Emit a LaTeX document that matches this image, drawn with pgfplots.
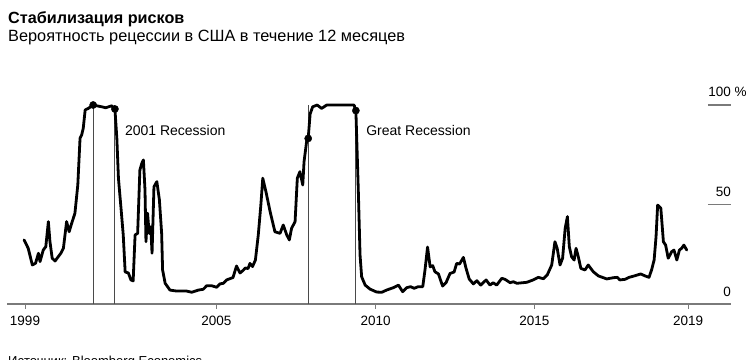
\documentclass[border=0pt]{standalone}
\usepackage{fontspec}
\setmainfont{Liberation Sans}
\usepackage{pgfplots}
\pgfplotsset{compat=1.18}
\definecolor{axgray}{HTML}{7A7A7A}
\definecolor{vline}{HTML}{4A4A4A}
\begin{document}
\begin{tikzpicture}[x=1pt,y=1pt]
\path[use as bounding box] (0,0) rectangle (755,359);
\node[anchor=base west, inner sep=0, font=\fontsize{16.2}{19}\selectfont\bfseries] at (8,335.7) {Стабилизация рисков};
\node[anchor=base west, inner sep=0, font=\fontsize{16.3}{19}\selectfont] at (8,317.3) {Вероятность рецессии в США в течение 12 месяцев};
\node[anchor=base west, inner sep=0, font=\fontsize{13}{15}\selectfont] at (8,-6.5) {Источник: Bloomberg Economics};
\begin{axis}[
  at={(7pt,55pt)}, anchor=south west,
  scale only axis, width=724pt, height=199pt,
  xmin=1998.4375, xmax=2021.0625, ymin=0, ymax=100,
  axis x line*=bottom, axis y line=none,
  x axis line style={draw=axgray, line width=1.3pt},
  xtick={1999,2004.98,2009.96,2014.92,2019.72},
  xticklabels={1999,2005,2010,2015,2019},
  tick align=outside, major tick length=5pt,
  xtick style={draw=axgray, line width=0.9pt},
  xticklabel style={font=\fontsize{13.5}{16}\selectfont, yshift=-4pt},
  /pgf/number format/assume math mode=true,
  clip=false,
]
\addplot[vline, line width=0.9pt] coordinates {(2001.13,0)(2001.13,100)};
\addplot[vline, line width=0.9pt] coordinates {(2001.81,0)(2001.81,100)};
\addplot[vline, line width=0.9pt] coordinates {(2007.85,0)(2007.85,100)};
\addplot[vline, line width=0.9pt] coordinates {(2009.34,0)(2009.34,100)};
\draw[axgray, line width=1.3pt] (axis cs:2020.34,50) -- (axis cs:2021.0625,50);
\draw[axgray, line width=1.3pt] (axis cs:2020.34,100) -- (axis cs:2021.0625,100);
\node[anchor=base east, inner sep=0, font=\fontsize{13.5}{16}\selectfont] at ([yshift=8pt]axis cs:2021.0625,100) {100\rlap{ \%}};
\node[anchor=base east, inner sep=0, font=\fontsize{13.5}{16}\selectfont] at ([yshift=8pt]axis cs:2021.0625,50) {50};
\node[anchor=base east, inner sep=0, font=\fontsize{13.5}{16}\selectfont] at ([yshift=8pt]axis cs:2021.0625,0) {0};
\addplot[black, line width=2.8pt, line join=round, line cap=round] coordinates {
(1998.97,32.2)(1999.10,28.0)(1999.23,19.6)(1999.33,20.5)(1999.42,25.5)(1999.47,21.3)(1999.57,27.1)(1999.65,28.8)(1999.73,41.4)(1999.78,31.3)(1999.85,23.0)(1999.94,21.6)(2000.04,23.8)(2000.12,25.5)(2000.20,28.0)(2000.30,41.4)(2000.38,36.3)(2000.46,40.6)(2000.56,45.6)(2000.65,59.8)(2000.72,83.3)(2000.77,84.9)(2000.82,88.3)(2000.88,97.5)(2000.98,98.3)(2001.13,100.0)(2001.24,99.6)(2001.40,99.1)(2001.52,98.6)(2001.71,99.6)(2001.81,98.0)(2001.87,83.3)(2001.92,63.2)(2002.00,48.2)(2002.07,34.7)(2002.13,16.1)(2002.23,15.6)(2002.31,12.1)(2002.38,11.6)(2002.44,34.7)(2002.52,35.5)(2002.59,67.3)(2002.65,70.7)(2002.70,72.4)(2002.75,57.3)(2002.78,31.3)(2002.83,45.6)(2002.88,35.5)(2002.93,38.8)(2002.97,25.5)(2003.03,58.9)(2003.12,61.5)(2003.20,52.3)(2003.27,35.5)(2003.30,17.1)(2003.38,10.4)(2003.53,7.0)(2003.74,6.5)(2004.05,6.5)(2004.21,5.9)(2004.42,7.0)(2004.57,7.4)(2004.68,9.2)(2004.83,9.2)(2004.99,8.4)(2005.09,10.1)(2005.20,10.4)(2005.30,12.1)(2005.50,13.3)(2005.61,19.1)(2005.72,15.6)(2005.81,16.8)(2005.89,18.1)(2005.97,17.8)(2006.03,20.4)(2006.11,18.8)(2006.20,22.1)(2006.29,34.7)(2006.37,49.7)(2006.43,63.2)(2006.53,56.4)(2006.66,46.4)(2006.81,36.3)(2006.97,35.5)(2007.07,39.7)(2007.18,34.7)(2007.26,32.2)(2007.33,38.0)(2007.44,41.4)(2007.51,63.2)(2007.59,66.5)(2007.68,59.8)(2007.72,71.5)(2007.80,81.6)(2007.85,83.2)(2007.91,95.5)(2007.99,99.1)(2008.13,100)(2008.27,98.3)(2008.43,100)(2009.28,100)(2009.34,97.2)(2009.42,54.8)(2009.47,24.6)(2009.52,13.7)(2009.63,9.5)(2009.78,7.5)(2009.99,6.0)(2010.15,5.9)(2010.30,7.0)(2010.51,8.2)(2010.67,9.5)(2010.80,6.2)(2010.93,8.2)(2011.05,8.7)(2011.16,7.9)(2011.29,8.7)(2011.43,8.7)(2011.50,17.1)(2011.58,28.6)(2011.66,18.7)(2011.74,19.3)(2011.81,16.2)(2011.92,15.1)(2012.05,9.0)(2012.16,10.8)(2012.28,15.3)(2012.41,16.1)(2012.49,20.4)(2012.58,20.1)(2012.70,23.4)(2012.78,18.1)(2012.88,12.6)(2013.01,10.1)(2013.12,11.7)(2013.24,9.5)(2013.41,12.1)(2013.53,9.5)(2013.63,10.7)(2013.74,9.5)(2013.90,12.9)(2014.00,12.4)(2014.16,10.7)(2014.26,11.2)(2014.37,10.4)(2014.68,10.9)(2014.88,12.1)(2015.04,13.4)(2015.20,12.7)(2015.32,14.6)(2015.46,19.6)(2015.56,31.3)(2015.63,28.0)(2015.72,19.6)(2015.80,23.0)(2015.88,38.0)(2015.95,43.9)(2016.01,28.8)(2016.08,23.8)(2016.16,22.1)(2016.22,28.0)(2016.29,23.8)(2016.37,17.9)(2016.50,17.1)(2016.60,19.6)(2016.76,16.2)(2016.92,14.1)(2017.18,12.6)(2017.38,13.2)(2017.51,13.4)(2017.59,12.1)(2017.75,12.4)(2017.88,13.4)(2018.06,14.2)(2018.24,15.1)(2018.38,14.1)(2018.50,13.4)(2018.58,17.1)(2018.66,22.1)(2018.72,33.8)(2018.77,49.7)(2018.87,48.1)(2018.95,31.3)(2019.02,29.6)(2019.10,23.0)(2019.21,26.3)(2019.28,27.1)(2019.37,22.1)(2019.45,27.1)(2019.52,28.0)(2019.59,29.6)(2019.68,27.1)
};
\addplot[only marks, mark=*, mark size=3.6pt, black] coordinates {(2001.13,100)(2001.81,98.0)(2007.85,83.2)(2009.34,97.2)};
\node[anchor=west, inner sep=0, font=\fontsize{14}{16}\selectfont] at (axis cs:2002.12,87.4) {2001 Recession};
\node[anchor=west, inner sep=0, font=\fontsize{14}{16}\selectfont] at (axis cs:2009.66,87.4) {Great Recession};
\end{axis}
\end{tikzpicture}
\end{document}
